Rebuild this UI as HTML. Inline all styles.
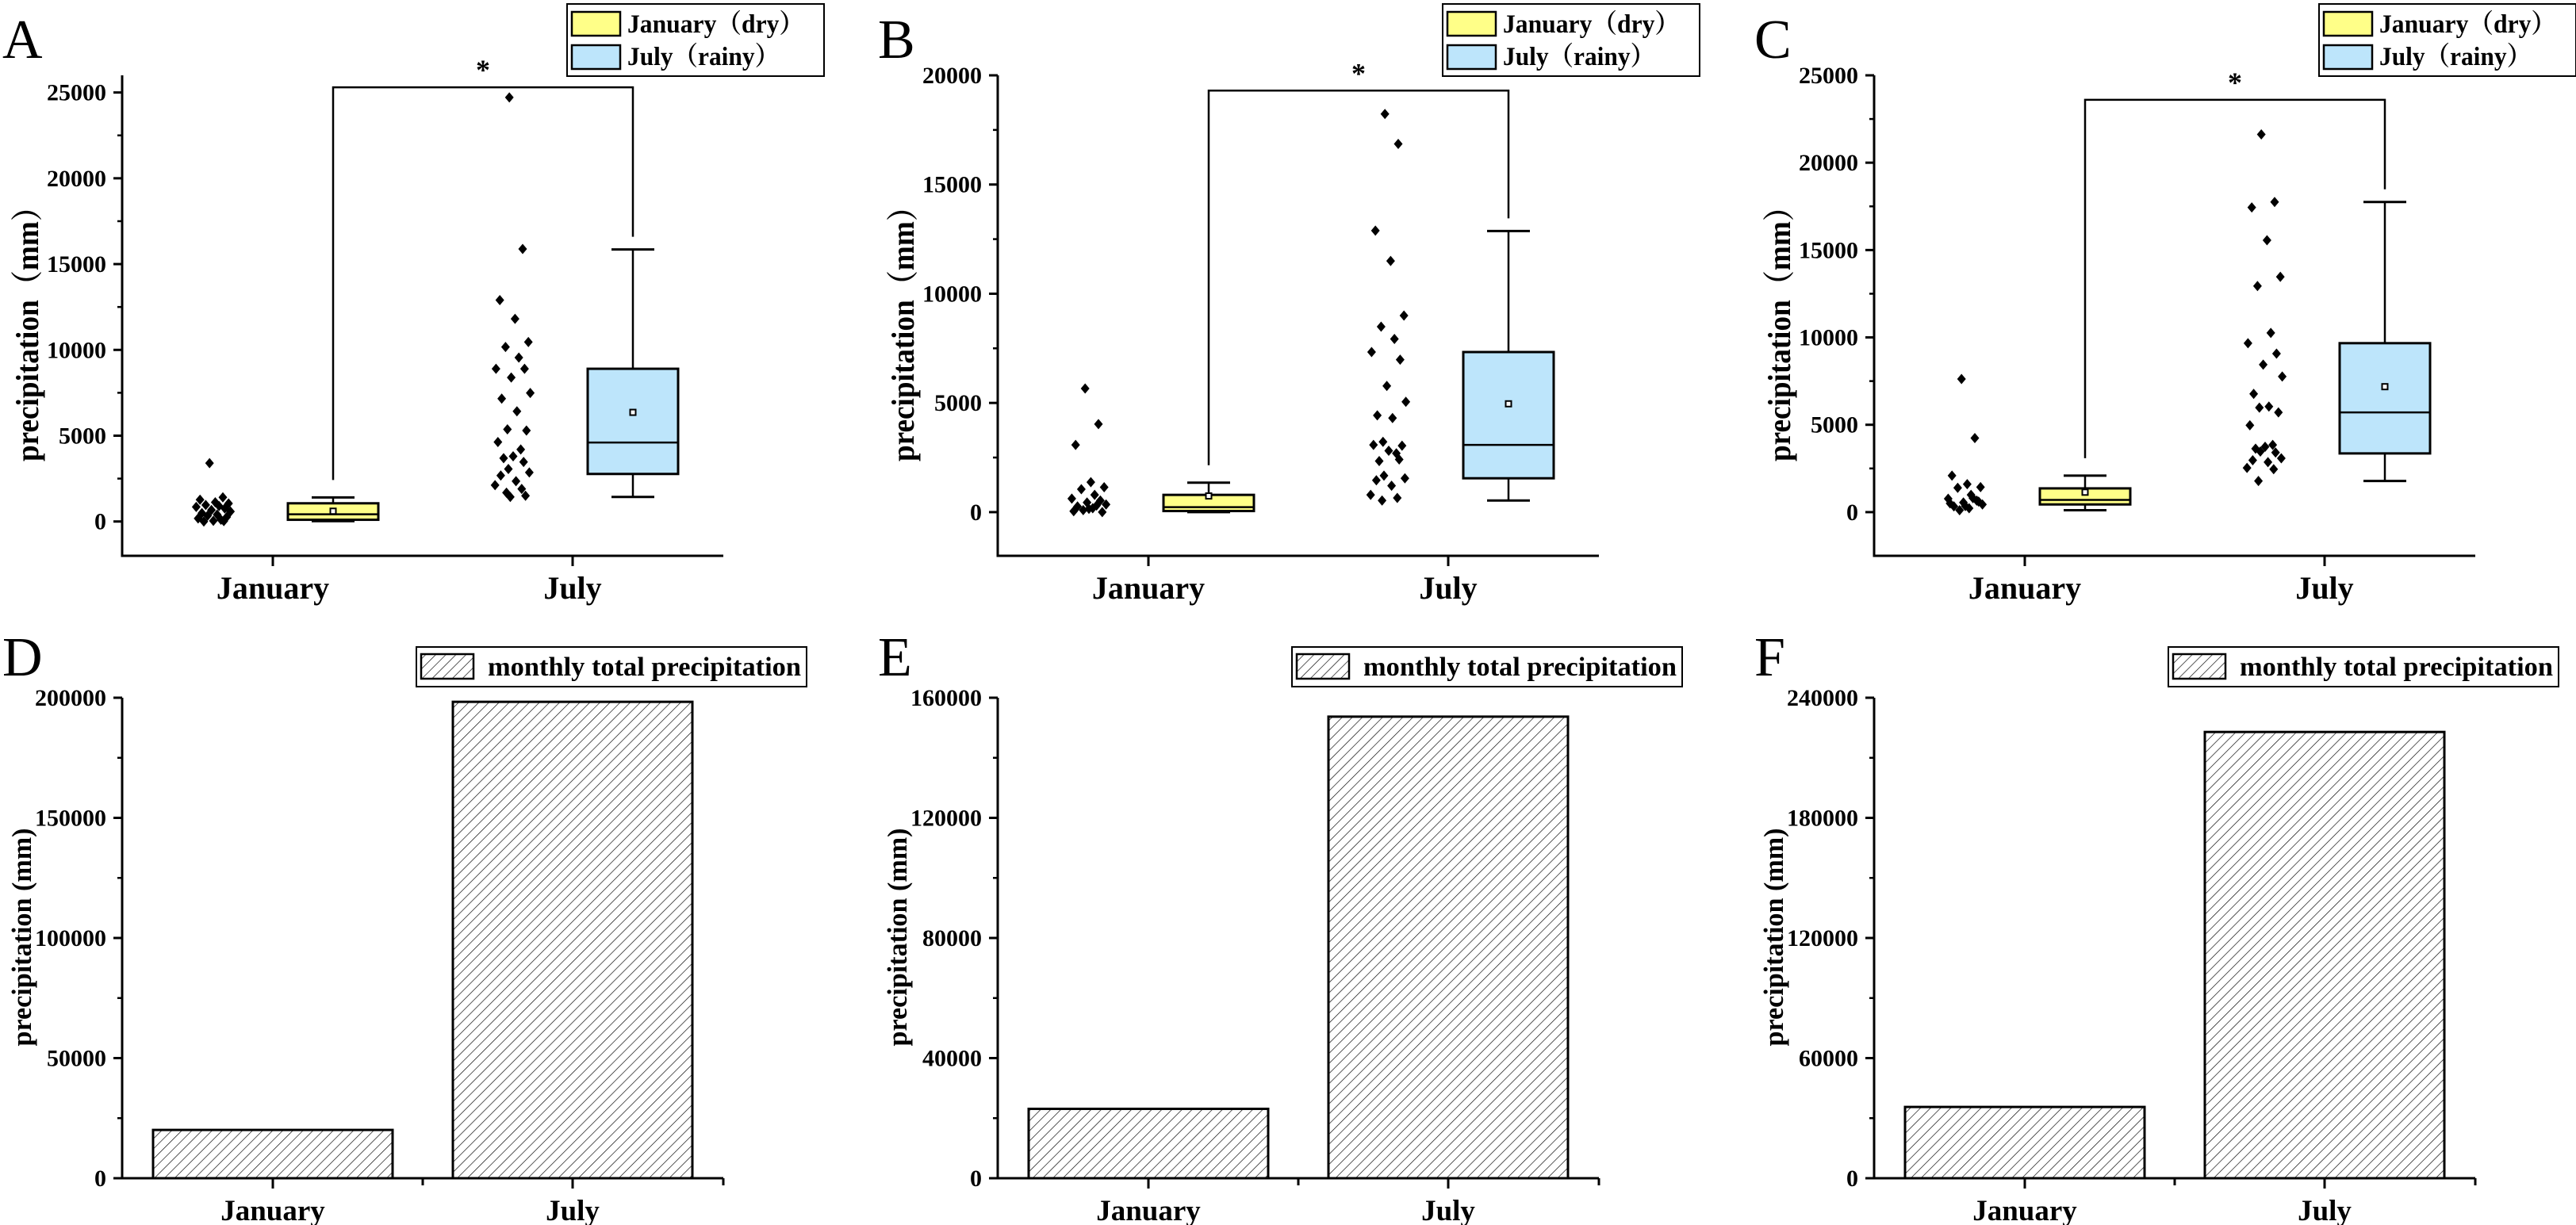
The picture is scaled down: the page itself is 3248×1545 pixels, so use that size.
<!DOCTYPE html>
<html><head><meta charset="utf-8"><style>
html,body{margin:0;padding:0;background:#fff;}
svg{display:block;}
text{font-family:"Liberation Serif","Noto Serif CJK SC",serif;fill:#000;}
</style></head>
<body>
<svg id="fig" xmlns="http://www.w3.org/2000/svg" width="3248" height="1545" viewBox="0 0 3248 1545">
<defs>
<pattern id="hatch" patternUnits="userSpaceOnUse" width="9" height="9" patternTransform="rotate(45)">
<rect width="9" height="9" fill="#fff"/>
<line x1="0" y1="0" x2="0" y2="9" stroke="#000" stroke-width="1.3"/>
</pattern>
</defs>
</svg>
<script>
const categories = ['January', 'July'];
// Box stats: [whiskerMin, q1, median, q3, whiskerMax, mean]
const aJanBox = [20, 100, 420, 1060, 1400, 600];
const aJulBox = [1430, 2770, 4600, 8900, 15850, 6360];
const bJanBox = [0, 50, 230, 790, 1350, 740];
const bJulBox = [530, 1550, 3080, 7330, 12870, 4960];
const cJanBox = [110, 440, 700, 1360, 2090, 1140];
const cJulBox = [1780, 3360, 5710, 9670, 17750, 7180];
const aJanPts = [3400, 1410, 1270, 1120, 1050, 960, 900, 850, 760, 670, 580, 490, 400, 340, 260, 180, 100, 40, 0, 20];
const aJulPts = [24710, 15880, 12900, 11810, 10460, 10170, 9550, 8900, 8900, 8390, 7490, 7160, 6420, 5370, 5300, 4630, 4200, 3800, 3690, 3470, 3060, 2860, 2680, 2350, 2120, 1900, 1680, 1500, 1430];
const bJanPts = [5660, 4030, 3080, 1370, 1140, 1050, 790, 620, 530, 440, 350, 260, 180, 90, 0, 40, 300, 150];
const bJulPts = [18230, 16860, 12890, 11500, 9000, 8490, 7930, 7330, 6980, 5780, 5050, 4430, 4310, 3220, 3040, 3080, 2690, 2810, 2340, 2410, 1670, 1550, 1460, 1210, 790, 650, 530];
const cJanPts = [7620, 4240, 2090, 1600, 1430, 1390, 990, 770, 660, 550, 440, 330, 220, 110, 600, 500, 800, 350];
const cJulPts = [21620, 17750, 17440, 15560, 13470, 12940, 10260, 9670, 9070, 8440, 7760, 6770, 6040, 5980, 5710, 4970, 3850, 3740, 3630, 3410, 3470, 3080, 2970, 2860, 2530, 2460, 1780];
const bracketTops = [25300, 19300, 23600];
const aTicks = [0, 5000, 10000, 15000, 20000, 25000];
const bTicks = [0, 5000, 10000, 15000, 20000];
const cTicks = [0, 5000, 10000, 15000, 20000, 25000];
const dTotals = [20100, 198300];
const eTotals = [23100, 153700];
const fTotals = [35600, 222900];
const dTicks = [0, 50000, 100000, 150000, 200000];
const eTicks = [0, 40000, 80000, 120000, 160000];
const fTicks = [0, 60000, 120000, 180000, 240000];

const svg = document.getElementById('fig');
const NS = 'http://www.w3.org/2000/svg';
function el(tag, attrs, parent) {
  const e = document.createElementNS(NS, tag);
  for (const k in attrs) e.setAttribute(k, attrs[k]);
  (parent || svg).appendChild(e);
  return e;
}
function txt(str, attrs, parent) {
  const t = el('text', attrs, parent);
  t.textContent = str;
  return t;
}
const JIT = [-0.2, 0.5, -0.7, 0.1, 0.8, -0.4, 0.3, -0.9, 0.6, -0.1, 0.9, -0.6, 0.2, -0.3, 0.7, -0.8, 0.4, 0.0, -0.5, 0.55, -0.25, 0.85, -0.65, 0.15, -0.95, 0.45, -0.35, 0.65, -0.15];

const topPanels = [
  {label: 'A', x0: 154, dom: [-2000, 26000], ticks: aTicks, minor: 2500, jan: aJanBox, jul: aJulBox, janPts: aJanPts, julPts: aJulPts, br: bracketTops[0]},
  {label: 'B', x0: 1258, dom: [-2000, 20000], ticks: bTicks, minor: 2500, jan: bJanBox, jul: bJulBox, janPts: bJanPts, julPts: bJulPts, br: bracketTops[1]},
  {label: 'C', x0: 2363, dom: [-2500, 25000], ticks: cTicks, minor: 2500, jan: cJanBox, jul: cJulBox, janPts: cJanPts, julPts: cJulPts, br: bracketTops[2]}
];
const botPanels = [
  {label: 'D', x0: 154, max: 200000, ticks: dTicks, totals: dTotals},
  {label: 'E', x0: 1258, max: 160000, ticks: eTicks, totals: eTotals},
  {label: 'F', x0: 2363, max: 240000, ticks: fTicks, totals: fTotals}
];
const AXW = 758;

topPanels.forEach((p) => {
  const g = el('g', {});
  
  
  const yTop = 95, yBot = 701;
  const y = v => yBot - (v - p.dom[0]) / (p.dom[1] - p.dom[0]) * (yBot - yTop);
  const cx = i => p.x0 + 190 + i * 378;
  const pl = txt(p.label, {x: p.x0 - 151, y: 73, 'font-size': 70}, g);
  
  
  const ya = el('line', {x1: p.x0, y1: yTop, x2: p.x0, y2: yBot + 1.5, stroke: '#000', 'stroke-width': 3}, g);
  
  
  const xa = el('line', {x1: p.x0 - 1.5, y1: yBot, x2: p.x0 + AXW, y2: yBot, stroke: '#000', 'stroke-width': 3}, g);
  
  
  p.ticks.forEach(v => {
    el('line', {x1: p.x0 - 11, y1: y(v), x2: p.x0, y2: y(v), stroke: '#000', 'stroke-width': 3}, g);
    const t = txt(String(v), {x: p.x0 - 20, y: y(v) + 10, 'font-size': 30, 'font-weight': 'bold', 'text-anchor': 'end'}, g);
    
    
  });
  for (let v = p.ticks[0] + p.minor; v < p.dom[1]; v += 5000) {
    el('line', {x1: p.x0 - 6, y1: y(v), x2: p.x0, y2: y(v), stroke: '#000', 'stroke-width': 2.5}, g);
  }
  categories.forEach((c, i) => {
    el('line', {x1: cx(i), y1: yBot, x2: cx(i), y2: yBot + 13, stroke: '#000', 'stroke-width': 3}, g);
    const t = txt(c, {x: cx(i), y: 755, 'font-size': 40, 'font-weight': 'bold', 'text-anchor': 'middle'}, g);
    
    
  });
  const yt = txt('precipitation（mm）', {x: 0, y: 0, 'font-size': 40, 'font-weight': 'bold', 'text-anchor': 'middle', textLength: 340, lengthAdjust: 'spacingAndGlyphs', transform: 'translate(' + (p.x0 - 106) + ',412) rotate(-90)'}, g);
  
  
  [p.janPts, p.julPts].forEach((pts, i) => {
    const sx = cx(i) - 75;
    pts.forEach((v, k) => {
      const px = sx + JIT[k % JIT.length] * 24, py = y(v);
      const d = el('path', {d: `M${px} ${py - 6.5}L${px + 5.5} ${py}L${px} ${py + 6.5}L${px - 5.5} ${py}Z`, fill: '#000'}, g);
      
      
    });
  });
  [p.jan, p.jul].forEach((b, i) => {
    const bx = cx(i) + 76, hw = 57, cap = 27;
    const fill = i === 0 ? '#ffff88' : '#bde5fb';
    el('line', {x1: bx, y1: y(b[4]), x2: bx, y2: y(b[3]), stroke: '#000', 'stroke-width': 2.5}, g);
    el('line', {x1: bx, y1: y(b[0]), x2: bx, y2: y(b[1]), stroke: '#000', 'stroke-width': 2.5}, g);
    el('line', {x1: bx - cap, y1: y(b[4]), x2: bx + cap, y2: y(b[4]), stroke: '#000', 'stroke-width': 3}, g);
    el('line', {x1: bx - cap, y1: y(b[0]), x2: bx + cap, y2: y(b[0]), stroke: '#000', 'stroke-width': 3}, g);
    const r = el('rect', {x: bx - hw, y: y(b[3]), width: hw * 2, height: Math.max(1, y(b[1]) - y(b[3])), fill: fill, stroke: '#000', 'stroke-width': 3}, g);
    
    
    el('line', {x1: bx - hw, y1: y(b[2]), x2: bx + hw, y2: y(b[2]), stroke: '#000', 'stroke-width': 2.5}, g);
    const m = el('rect', {x: bx - 3.5, y: y(b[5]) - 3.5, width: 7, height: 7, fill: '#fff', stroke: '#000', 'stroke-width': 2}, g);
    
    
  });
  const b1 = cx(0) + 76, b2 = cx(1) + 76, bt = y(p.br);
  const br = el('path', {d: `M${b1} ${y(p.jan[4]) - 22}V${bt}H${b2}V${y(p.jul[4]) - 16}`, fill: 'none', stroke: '#000', 'stroke-width': 2.5}, g);
  
  
  const st = txt('*', {x: (b1 + b2) / 2, y: bt - 10, 'font-size': 36, 'font-weight': 'bold', 'text-anchor': 'middle'}, g);
  
  
  const lg = el('g', {}, g);
  
  
  const lx = p.x0 + 561;
  el('rect', {x: lx, y: 5, width: 324, height: 91, fill: '#fff', stroke: '#000', 'stroke-width': 2}, lg);
  [['January（dry）', '#ffff88', 15, 41, 223], ['July（rainy）', '#bde5fb', 57, 82, 192]].forEach(([s, f, sy, ty, tl]) => {
    const e1 = el('rect', {x: lx + 6, y: sy, width: 61, height: 30, fill: f, stroke: '#000', 'stroke-width': 2.5}, lg);
    
    
    const e2 = txt(s, {x: lx + 76, y: ty, 'font-size': 33, 'font-weight': 'bold', textLength: tl, lengthAdjust: 'spacingAndGlyphs'}, lg);
    
    
  });
});

botPanels.forEach((p) => {
  const g = el('g', {});
  
  
  const yTop = 880, yBot = 1486;
  const y = v => yBot - v / p.max * (yBot - yTop);
  const cx = i => p.x0 + 190 + i * 378;
  const pl = txt(p.label, {x: p.x0 - 151, y: 852, 'font-size': 70}, g);
  
  
  p.totals.forEach((v, i) => {
    const r = el('rect', {x: cx(i) - 151, y: y(v), width: 302, height: yBot - y(v), fill: 'url(#hatch)', stroke: '#000', 'stroke-width': 3}, g);
    
    
  });
  const ya = el('line', {x1: p.x0, y1: yTop, x2: p.x0, y2: yBot + 1.5, stroke: '#000', 'stroke-width': 3}, g);
  
  
  const xa = el('line', {x1: p.x0 - 1.5, y1: yBot, x2: p.x0 + AXW, y2: yBot, stroke: '#000', 'stroke-width': 3}, g);
  
  
  p.ticks.forEach((v, k) => {
    el('line', {x1: p.x0 - 11, y1: y(v), x2: p.x0, y2: y(v), stroke: '#000', 'stroke-width': 3}, g);
    if (k > 0) {
      const mv = (v + p.ticks[k - 1]) / 2;
      el('line', {x1: p.x0 - 6, y1: y(mv), x2: p.x0, y2: y(mv), stroke: '#000', 'stroke-width': 2.5}, g);
    }
    const t = txt(String(v), {x: p.x0 - 20, y: y(v) + 10, 'font-size': 30, 'font-weight': 'bold', 'text-anchor': 'end'}, g);
    
    
  });
  [0, 1, 2, 3].forEach(k => {
    const tx = k === 0 ? cx(0) : k === 1 ? (cx(0) + cx(1)) / 2 : k === 2 ? cx(1) : p.x0 + AXW;
    el('line', {x1: tx, y1: yBot, x2: tx, y2: yBot + (k % 2 === 0 ? 13 : 9), stroke: '#000', 'stroke-width': 3}, g);
  });
  categories.forEach((c, i) => {
    const t = txt(c, {x: cx(i), y: 1539, 'font-size': 37, 'font-weight': 'bold', 'text-anchor': 'middle'}, g);
    
    
  });
  const yt = txt('precipitation (mm)', {x: 0, y: 0, 'font-size': 35, 'font-weight': 'bold', 'text-anchor': 'middle', textLength: 275, lengthAdjust: 'spacingAndGlyphs', transform: 'translate(' + (p.x0 - 115) + ',1182) rotate(-90)'}, g);
  
  
  const lg = el('g', {}, g);
  
  
  const lx = p.x0 + 371;
  el('rect', {x: lx, y: 816, width: 492, height: 50, fill: '#fff', stroke: '#000', 'stroke-width': 2}, lg);
  const sw = el('rect', {x: lx + 6, y: 825, width: 66, height: 31, fill: 'url(#hatch)', stroke: '#000', 'stroke-width': 2.5}, lg);
  
  
  const lt = txt('monthly total precipitation', {x: lx + 90, y: 852, 'font-size': 34, 'font-weight': 'bold', textLength: 395, lengthAdjust: 'spacingAndGlyphs'}, lg);
  
  
});
</script>
</body></html>
